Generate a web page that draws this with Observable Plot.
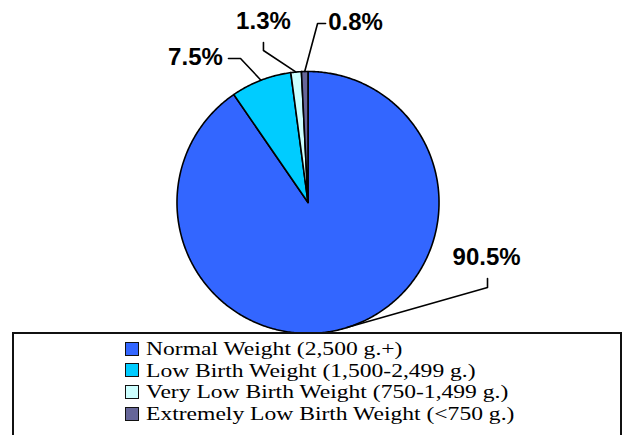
<!DOCTYPE html>
<html>
<head>
<meta charset="utf-8">
<script src="https://cdn.jsdelivr.net/npm/d3@7"></script>
<script src="https://cdn.jsdelivr.net/npm/@observablehq/plot@0.6"></script>
<style>
  html, body { margin: 0; padding: 0; background: #fff; }
  #wrap { position: relative; width: 631px; height: 435px; overflow: hidden; }
  #chart svg { display: block; }
  #legend {
    position: absolute; left: 12px; top: 332px; width: 610px; height: 120px;
    box-sizing: border-box; border: 2px solid #111; background: #fff;
  }
  .row { position: absolute; left: 111px; height: 21px; display: flex; align-items: center; }
  .sw { width: 12px; height: 12px; border: 1.6px solid #111; box-sizing: content-box; }
  .lbl { margin-left: 7px; font-family: "Liberation Serif", "Times New Roman", serif; font-size: 18.8px;
         line-height: 21px; color: #000; display: inline-block; transform: scaleX(1.255); transform-origin: left center; white-space: nowrap; }
</style>
</head>
<body>
<div id="wrap">
  <div id="chart"></div>
  <div id="legend"></div>
</div>
<script>
// ---- data ----
const categories = [
  "Normal Weight (2,500 g.+)",
  "Low Birth Weight (1,500-2,499 g.)",
  "Very Low Birth Weight (750-1,499 g.)",
  "Extremely Low Birth Weight (<750 g.)"
];
const values = [90.5, 7.5, 1.3, 0.8];
const valueLabels = ["90.5%", "7.5%", "1.3%", "0.8%"];
const colors = ["#3366FF", "#00CCFF", "#CCFFFF", "#666699"];

// ---- label layout (in pie-radius units, relative to centre; y up) ----
const labelPos = [[1.363, -0.42], [-0.859, 1.107], [-0.340, 1.382], [0.363, 1.374]];
const labelElbows = [
  [[1.370, -0.580], [1.370, -0.649]],
  [[-0.607, 1.099], [-0.515, 1.099]],
  [[-0.340, 1.221], [-0.340, 1.160]],
  [[0.134, 1.366], [0.073, 1.366]]
];

// ---- geometry from the data ----
const arcs = d3.pie().sort(null).value(d => d)(values);
const slicePts = [];
arcs.forEach((a, i) => {
  const cat = categories[i];
  slicePts.push({cat, x: 0, y: 0});
  const n = Math.max(2, Math.ceil((a.endAngle - a.startAngle) / 0.01));
  for (let k = 0; k <= n; k++) {
    const t = a.startAngle + (a.endAngle - a.startAngle) * k / n;
    slicePts.push({cat, x: Math.sin(t), y: Math.cos(t)});
  }
});
const leaderPts = [];
arcs.forEach((a, i) => {
  const mid = (a.startAngle + a.endAngle) / 2;
  labelElbows[i].forEach(([x, y]) => leaderPts.push({k: i, x, y}));
  leaderPts.push({k: i, x: Math.sin(mid), y: Math.cos(mid)});
});
const labelData = valueLabels.map((t, i) => ({t, x: labelPos[i][0], y: labelPos[i][1]}));

const chart = Plot.plot({
  width: 631,
  height: 333,
  margin: 0,
  x: {domain: [-2.347, 2.469], axis: null},
  y: {domain: [-1, 1.542], axis: null},
  color: {domain: categories, range: colors},
  style: {background: "transparent"},
  marks: [
    Plot.line(slicePts, {x: "x", y: "y", z: "cat", fill: "cat", stroke: "#000", strokeWidth: 1.6,
      curve: "linear-closed", strokeLinejoin: "round"}),
    Plot.line(leaderPts, {x: "x", y: "y", z: "k", stroke: "#000", strokeWidth: 1.6}),
    Plot.text(labelData, {x: "x", y: "y", text: "t", fontSize: 24, fontWeight: "bold",
      fontFamily: "Arial, 'Liberation Sans', sans-serif", fill: "#000"})
  ]
});
document.getElementById("chart").appendChild(chart);

// ---- legend ----
const legend = document.getElementById("legend");
categories.forEach((c, i) => {
  const row = document.createElement("div");
  row.className = "row";
  row.style.top = (4 + i * 21.7) + "px";
  const sw = document.createElement("div");
  sw.className = "sw";
  sw.style.background = colors[i];
  const lb = document.createElement("span");
  lb.className = "lbl";
  lb.textContent = c;
  row.appendChild(sw);
  row.appendChild(lb);
  legend.appendChild(row);
});
</script>
</body>
</html>
